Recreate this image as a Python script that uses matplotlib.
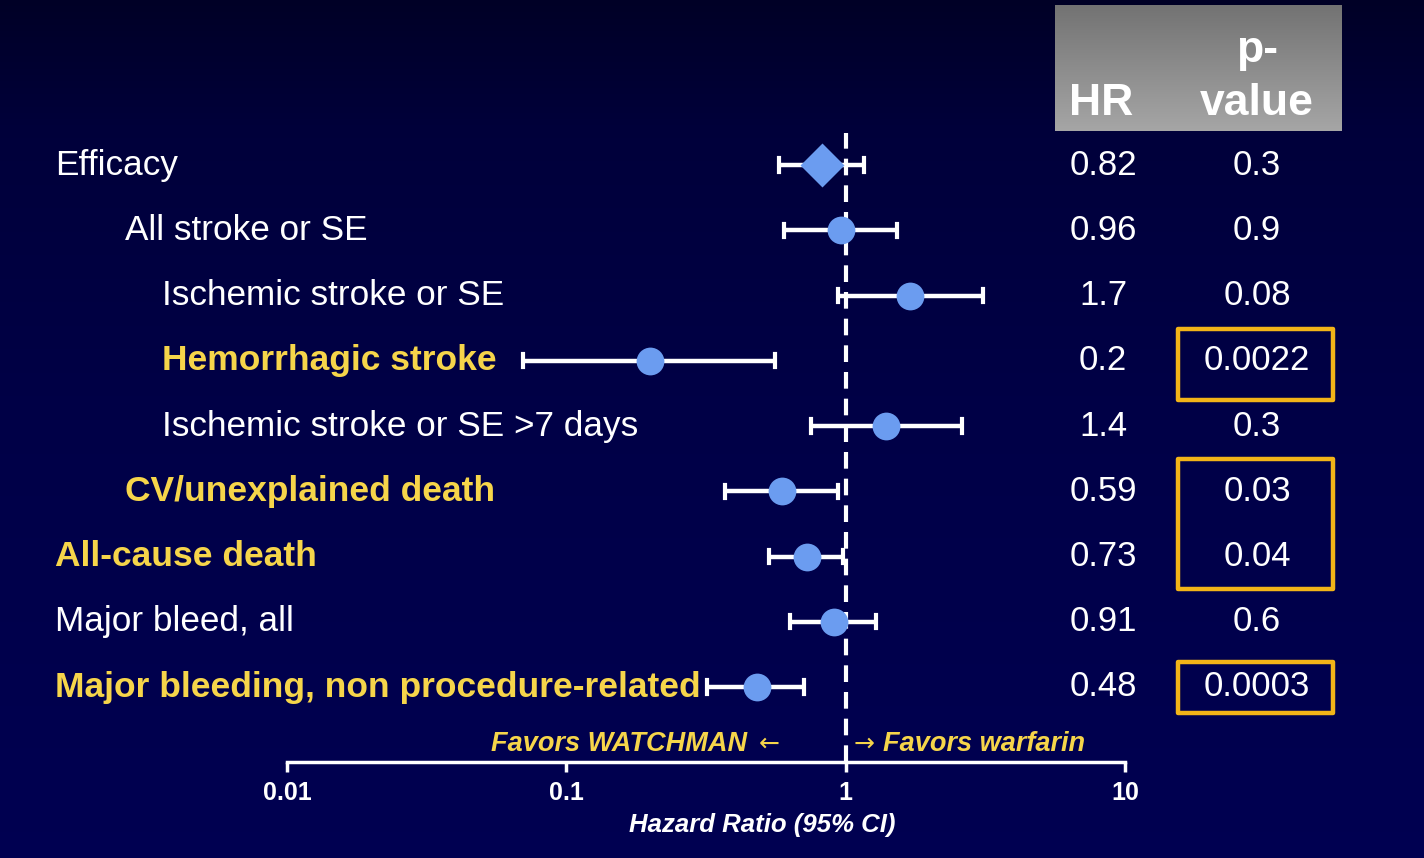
import matplotlib
matplotlib.use("Agg")
import matplotlib.pyplot as plt
import numpy as np
from matplotlib.transforms import blended_transform_factory
from matplotlib.patches import Rectangle

# ---- data ----
labels = ["Efficacy", "All stroke or SE", "Ischemic stroke or SE", "Hemorrhagic stroke",
          "Ischemic stroke or SE >7 days", "CV/unexplained death", "All-cause death",
          "Major bleed, all", "Major bleeding, non procedure-related"]
indent = [0, 1, 2, 2, 2, 1, 0, 0, 0]
highlight = [False, False, False, True, False, True, True, False, True]
hr = [0.82, 0.96, 1.7, 0.2, 1.4, 0.59, 0.73, 0.91, 0.48]
ci_low = [0.575, 0.60, 0.94, 0.07, 0.75, 0.37, 0.53, 0.63, 0.32]
ci_high = [1.16, 1.53, 3.1, 0.56, 2.6, 0.94, 0.98, 1.28, 0.71]
hr_text = ["0.82", "0.96", "1.7", "0.2", "1.4", "0.59", "0.73", "0.91", "0.48"]
p_text = ["0.3", "0.9", "0.08", "0.0022", "0.3", "0.03", "0.04", "0.6", "0.0003"]
boxed_groups = [(3, 3), (5, 6), (8, 8)]
xticks = [0.01, 0.1, 1, 10]
xtick_labels = ["0.01", "0.1", "1", "10"]

W, H = 1424, 858
fig = plt.figure(figsize=(W / 100, H / 100), dpi=100)

# background gradient
bg = fig.add_axes([0, 0, 1, 1], zorder=-10)
yy = np.linspace(0, 1, 400)[:, None]  # 0 = top
blue = np.interp(yy, [0, 0.15, 0.5, 1], [0.15, 0.23, 0.28, 0.32])
img = np.concatenate([np.zeros_like(blue)[:, :, None], np.zeros_like(blue)[:, :, None],
                      blue[:, :, None]], axis=2)
bg.imshow(img, aspect="auto", extent=[0, 1, 0, 1])
bg.set_axis_off()

# header gray box
hx0, hx1, hy0, hy1 = 1055, 1342, 5, 131
hb = fig.add_axes([hx0 / W, 1 - hy1 / H, (hx1 - hx0) / W, (hy1 - hy0) / H], zorder=-5)
g2 = np.linspace(0, 1, 256)[:, None]
gimg = (0.45 * (1 - g2) + 0.65 * g2)[:, :, None] * np.ones((1, 1, 3))
hb.imshow(gimg, aspect="auto", extent=[0, 1, 0, 1])
hb.set_axis_off()

FONT = ["Liberation Sans", "DejaVu Sans"]
YEL = "#f6d54a"
BLUE = "#6b9cf0"
ORANGE = "#f2b418"

fig.text(1101 / W, 1 - 115 / H, "HR", color="white", fontsize=32, fontweight="bold",
         family=FONT, ha="center", va="baseline")
fig.text(1257 / W, 1 - 62 / H, "p-", color="white", fontsize=32, fontweight="bold",
         family=FONT, ha="center", va="baseline")
fig.text(1257 / W, 1 - 115 / H, "value", color="white", fontsize=32, fontweight="bold",
         family=FONT, ha="center", va="baseline")

# main axes
top_px, bot_px = 133, 762
row0, step = 165, 65.25
ax = fig.add_axes([287 / W, 1 - bot_px / H, (1125 - 287) / W, (bot_px - top_px) / H])
ax.set_facecolor("none")
ax.set_xscale("log")
ax.set_xlim(0.01, 10)
ax.set_ylim((bot_px - row0) / step, (top_px - row0) / step)

ys = np.arange(len(labels))
for i in ys:
    ax.plot([ci_low[i], ci_high[i]], [i, i], color="white", lw=3.2, solid_capstyle="butt", zorder=3)
    ax.plot([ci_low[i], ci_low[i]], [i - 0.1, i + 0.1], color="white", lw=3, zorder=3)
    ax.plot([ci_high[i], ci_high[i]], [i - 0.1, i + 0.1], color="white", lw=3, zorder=3)
    mk = "D" if i == 0 else "o"
    ms = 22 if i == 0 else 20
    ax.plot([hr[i]], [i], marker=mk, ms=ms, color=BLUE, mec="none", zorder=5, ls="none")

ax.axvline(1, color="white", lw=3, ls=(0, (4, 2.4)), zorder=4)

for s in ["top", "right", "left"]:
    ax.spines[s].set_visible(False)
ax.spines["bottom"].set_color("white")
ax.spines["bottom"].set_linewidth(2.5)
ax.set_yticks([])
ax.set_xticks(xticks)
ax.set_xticklabels(xtick_labels)
ax.minorticks_off()
ax.tick_params(axis="x", colors="white", length=7, width=2.5, pad=7, labelsize=18)
for t in ax.get_xticklabels():
    t.set_fontweight("bold")
    t.set_family(FONT)


def px2x(px):
    return 10 ** ((px - 845) / 279.3)


axtr = blended_transform_factory(ax.transData, ax.transAxes)
ax.text(px2x(762), -0.1, "Hazard Ratio (95% CI)", transform=axtr, color="white",
        fontsize=18.5, fontweight="bold", style="italic", family=FONT, ha="center", va="center")
ax.text(px2x(746), 0.029, "Favors WATCHMAN", transform=axtr,
        color=YEL, fontsize=19.5, fontweight="bold", style="italic", family=FONT, ha="right", va="center")
ax.text(px2x(769), 0.029, "\u2190", transform=axtr,
        color=YEL, fontsize=18, family="DejaVu Sans", ha="center", va="center")
ax.text(px2x(863), 0.029, "\u2192", transform=axtr,
        color=YEL, fontsize=18, family="DejaVu Sans", ha="center", va="center")
ax.text(px2x(882), 0.029, "Favors warfarin", transform=axtr,
        color=YEL, fontsize=19.5, fontweight="bold", style="italic", family=FONT, ha="left", va="center")

# labels & columns
tr = blended_transform_factory(fig.transFigure, ax.transData)
indent_px = [55, 125, 162]
for i in ys:
    ax.text(indent_px[indent[i]] / W, i, labels[i], transform=tr, clip_on=False,
            color=YEL if highlight[i] else "white", fontsize=25.5 if highlight[i] else 25.3,
            fontweight="bold" if highlight[i] else "normal", family=FONT, ha="left", va="center")
    ax.text(1103 / W, i, hr_text[i], transform=tr, clip_on=False, color="white", fontsize=25,
            family=FONT, ha="center", va="center")
    ax.text(1257 / W, i, p_text[i], transform=tr, clip_on=False, color="white", fontsize=25,
            family=FONT, ha="center", va="center")

for a, b in boxed_groups:
    if a != b:
        y0, y1 = a - 0.5, b + 0.5
    elif a == 8:
        y0, y1 = a - 0.38, a + 0.4
    else:
        y0, y1 = a - 0.48, a + 0.6
    rect = Rectangle((1178 / W, y0), (1333 - 1178) / W, y1 - y0, transform=tr, fill=False,
                     edgecolor=ORANGE, lw=3.2, clip_on=False, joinstyle="round")
    ax.add_patch(rect)

fig.savefig("out.png", dpi=100, facecolor="#000030")
